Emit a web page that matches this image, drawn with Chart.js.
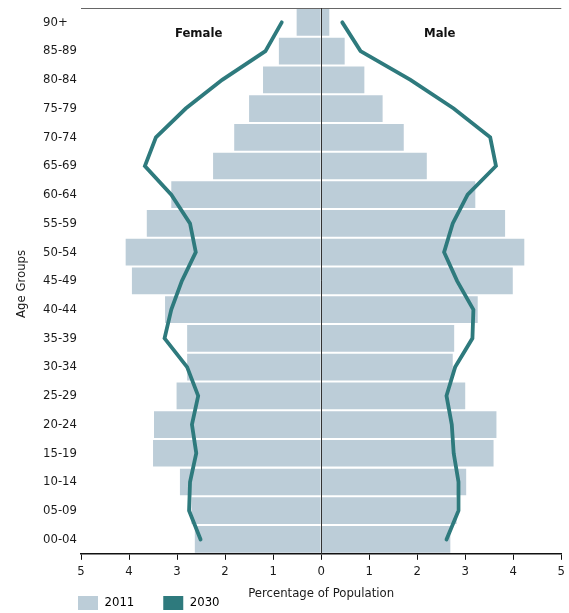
<!DOCTYPE html>
<html>
<head>
<meta charset="utf-8">
<script src="https://cdn.jsdelivr.net/npm/chart.js@4.4.1/dist/chart.umd.min.js"></script>
<style>
  html, body { margin: 0; padding: 0; background: #fff; }
  #wrap { width: 569px; height: 613px; }
</style>
</head>
<body>
<div id="wrap"><canvas id="chart-pyramid"></canvas></div>
<script>
const ageGroups = ['00-04', '05-09', '10-14', '15-19', '20-24', '25-29', '30-34', '35-39', '40-44',
  '45-49', '50-54', '55-59', '60-64', '65-69', '70-74', '75-79', '80-84', '85-89', '90+'];
const female2011 = [2.63, 2.70, 2.94, 3.50, 3.48, 3.01, 2.79, 2.79, 3.25, 3.94, 4.07, 3.63, 3.12, 2.25, 1.81, 1.50, 1.21, 0.88, 0.51];
const male2011 = [2.69, 2.82, 3.02, 3.59, 3.65, 3.00, 2.74, 2.77, 3.26, 3.99, 4.23, 3.83, 3.21, 2.20, 1.72, 1.28, 0.90, 0.49, 0.17];
const female2030 = [2.51, 2.75, 2.73, 2.60, 2.69, 2.56, 2.79, 3.26, 3.12, 2.90, 2.61, 2.73, 3.12, 3.67, 3.44, 2.82, 2.06, 1.16, 0.82];
const male2030 = [2.61, 2.86, 2.86, 2.76, 2.72, 2.61, 2.79, 3.15, 3.17, 2.83, 2.56, 2.74, 3.05, 3.64, 3.52, 2.76, 1.86, 0.82, 0.44];
const sideLabels = ['Female', 'Male'];
const yAxisTitle = 'Age Groups';
const xLimit = 5;

const BAR_COLOR = '#bccdd8';
const LINE_COLOR = '#2e7a7d';
const TEXT_COLOR = '#1a1a1a';
const FONT = "'Liberation Sans Narrow', 'DejaVu Sans Condensed', 'Roboto', sans-serif";
const LEGEND_PAD = 29;

// frame: top rule, zero line, Female / Male headings, y title; legend nudged under the axis
const framePlugin = {
  id: 'frame',
  afterLayout(chart) {
    if (!chart.legend) return;
    const dx = (78 - LEGEND_PAD) - chart.legend.left;
    const dy = (596 - LEGEND_PAD) - chart.legend.top;
    chart.legend.left += dx;
    chart.legend.right += dx;
    chart.legend.top += dy;
    chart.legend.bottom += dy;
  },
  beforeDatasetsDraw(chart) {
    const { ctx, chartArea } = chart;
    ctx.save();
    ctx.strokeStyle = '#666';
    ctx.lineWidth = 1;
    ctx.beginPath();
    ctx.moveTo(chartArea.left, chartArea.top + 0.5);
    ctx.lineTo(chartArea.right, chartArea.top + 0.5);
    ctx.stroke();

    ctx.fillStyle = TEXT_COLOR;
    ctx.font = "13px " + FONT;
    ctx.textAlign = 'center';
    ctx.textBaseline = 'middle';
    ctx.translate(22, (chartArea.top + chartArea.bottom) / 2 + 3);
    ctx.rotate(-Math.PI / 2);
    ctx.fillText(yAxisTitle, 0, 0);
    ctx.restore();
  },
  afterDatasetsDraw(chart) {
    const { ctx, chartArea, scales } = chart;
    const x0 = Math.round(scales.x.getPixelForValue(0)) + 0.5;
    ctx.save();
    ctx.strokeStyle = '#333';
    ctx.lineWidth = 1;
    ctx.beginPath();
    ctx.moveTo(x0, chartArea.top);
    ctx.lineTo(x0, chartArea.bottom);
    ctx.stroke();

    ctx.fillStyle = '#111';
    ctx.font = "bold 13px " + FONT;
    ctx.textAlign = 'center';
    ctx.textBaseline = 'middle';
    const yText = scales.y.getPixelForValue(ageGroups.length - 1) + 11;
    ctx.fillText(sideLabels[0], scales.x.getPixelForValue(-2.55), yText);
    ctx.fillText(sideLabels[1], scales.x.getPixelForValue(2.47), yText);
    ctx.restore();
  }
};

const lineStyle = {
  type: 'line',
  label: '2030',
  indexAxis: 'y',
  borderColor: LINE_COLOR,
  backgroundColor: LINE_COLOR,
  borderWidth: 3.8,
  pointRadius: 0,
  tension: 0,
  borderCapStyle: 'round',
  borderJoinStyle: 'miter',
  fill: false
};

const barStyle = {
  label: '2011',
  backgroundColor: BAR_COLOR,
  grouped: false,
  categoryPercentage: 1,
  barPercentage: 0.93
};

new Chart(document.getElementById('chart-pyramid'), {
  type: 'bar',
  data: {
    labels: ageGroups,
    datasets: [
      { ...lineStyle, data: female2030.map((v) => -v) },
      { ...lineStyle, data: male2030 },
      { ...barStyle, data: female2011.map((v) => -v) },
      { ...barStyle, data: male2011 }
    ]
  },
  options: {
    indexAxis: 'y',
    responsive: true,
    maintainAspectRatio: false,
    animation: false,
    layout: { padding: { top: 8, right: 7, left: 43, bottom: -41 } },
    scales: {
      x: {
        min: -xLimit,
        max: xLimit,
        grid: { drawOnChartArea: false, drawTicks: true, tickLength: 6, color: '#111' },
        border: { display: true, color: '#111', width: 1.5 },
        ticks: {
          stepSize: 1,
          padding: 4,
          color: TEXT_COLOR,
          font: { family: FONT, size: 13 },
          callback: (v) => Math.abs(v)
        },
        title: {
          display: true,
          text: 'Percentage of Population',
          color: TEXT_COLOR,
          font: { family: FONT, size: 13 },
          padding: { top: 2, bottom: 0 }
        }
      },
      y: {
        reverse: true,
        grid: { display: false },
        border: { display: false },
        ticks: {
          color: TEXT_COLOR,
          padding: 5,
          crossAlign: 'far',
          font: { family: FONT, size: 13 }
        },
        afterFit: (scale) => {
          scale.width = 38;
          scale.paddingTop = 0;
          scale.paddingBottom = 0;
        }
      }
    },
    plugins: {
      tooltip: { enabled: false },
      legend: {
        position: 'bottom',
        align: 'start',
        labels: {
          boxWidth: 20,
          boxHeight: 14,
          padding: LEGEND_PAD,
          color: TEXT_COLOR,
          font: { family: FONT, size: 13 },
          generateLabels: () => [
            { text: '2011', fillStyle: BAR_COLOR, strokeStyle: BAR_COLOR, lineWidth: 0, datasetIndex: 2 },
            { text: '2030', fillStyle: LINE_COLOR, strokeStyle: LINE_COLOR, lineWidth: 0, datasetIndex: 0 }
          ]
        }
      }
    }
  },
  plugins: [framePlugin]
});
</script>
</body>
</html>
